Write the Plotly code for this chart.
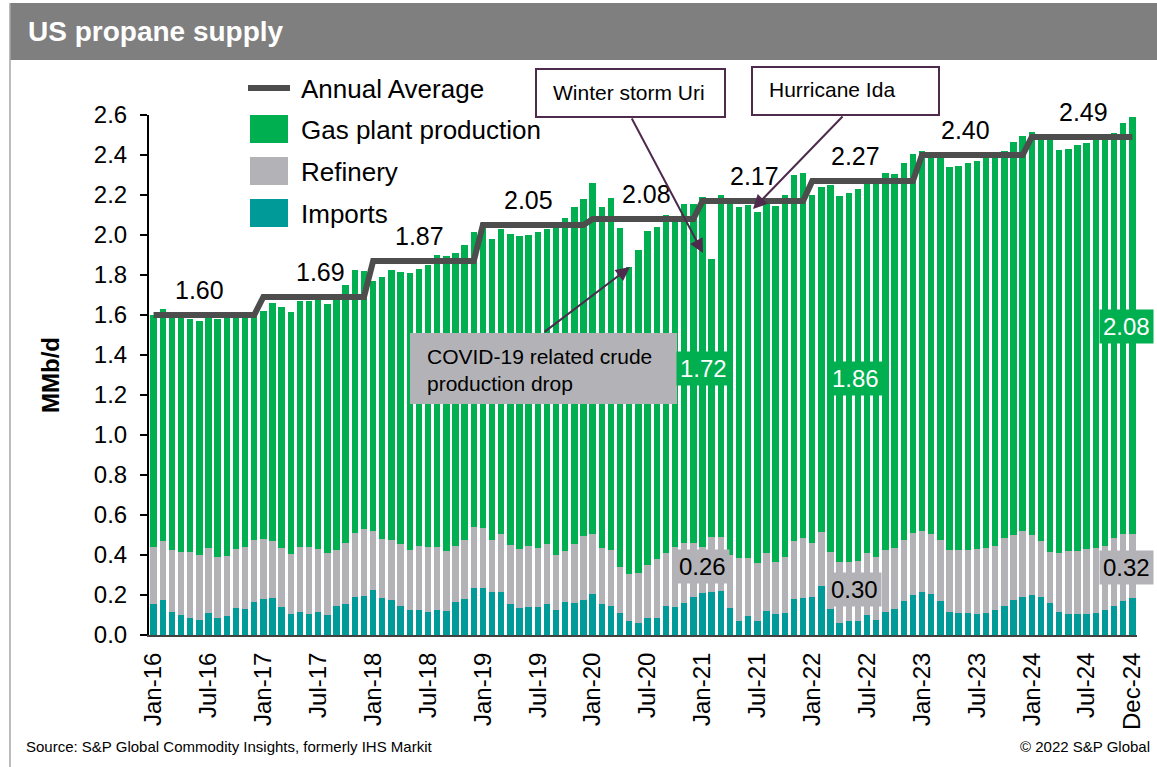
import plotly.graph_objects as go

# ---------------- data ----------------
years = [16, 17, 18, 19, 20, 21, 22, 23, 24]
month_names = ["Jan", "Feb", "Mar", "Apr", "May", "Jun", "Jul", "Aug", "Sep", "Oct", "Nov", "Dec"]
months = [f"{m}-{y}" for y in years for m in month_names]

imports = [
    0.155, 0.177, 0.115, 0.100, 0.087, 0.073, 0.110, 0.087, 0.095, 0.137, 0.130, 0.165,
    0.180, 0.185, 0.140, 0.105, 0.115, 0.105, 0.115, 0.100, 0.145, 0.155, 0.190, 0.195,
    0.225, 0.185, 0.177, 0.145, 0.125, 0.123, 0.115, 0.125, 0.120, 0.163, 0.180, 0.233,
    0.235, 0.217, 0.215, 0.153, 0.135, 0.140, 0.140, 0.155, 0.125, 0.165, 0.158, 0.177,
    0.205, 0.155, 0.145, 0.108, 0.070, 0.060, 0.083, 0.087, 0.145, 0.140, 0.162, 0.190,
    0.212, 0.217, 0.222, 0.135, 0.072, 0.093, 0.070, 0.122, 0.105, 0.110, 0.180, 0.187,
    0.190, 0.243, 0.130, 0.060, 0.070, 0.068, 0.100, 0.075, 0.115, 0.132, 0.168, 0.198,
    0.217, 0.205, 0.170, 0.115, 0.110, 0.110, 0.105, 0.110, 0.125, 0.145, 0.173, 0.190,
    0.200, 0.190, 0.160, 0.115, 0.105, 0.105, 0.105, 0.110, 0.127, 0.145, 0.172, 0.187,
]

refinery = [
    0.287, 0.291, 0.308, 0.315, 0.328, 0.327, 0.323, 0.301, 0.302, 0.291, 0.308, 0.308,
    0.298, 0.283, 0.297, 0.298, 0.323, 0.333, 0.313, 0.308, 0.280, 0.305, 0.318, 0.333,
    0.293, 0.293, 0.296, 0.308, 0.300, 0.322, 0.323, 0.313, 0.298, 0.282, 0.295, 0.305,
    0.300, 0.258, 0.290, 0.297, 0.297, 0.305, 0.295, 0.298, 0.275, 0.253, 0.297, 0.318,
    0.300, 0.280, 0.280, 0.232, 0.235, 0.250, 0.267, 0.293, 0.265, 0.300, 0.296, 0.268,
    0.230, 0.275, 0.270, 0.265, 0.313, 0.292, 0.290, 0.288, 0.262, 0.280, 0.292, 0.296,
    0.270, 0.270, 0.285, 0.303, 0.293, 0.300, 0.312, 0.313, 0.310, 0.301, 0.307, 0.314,
    0.303, 0.300, 0.305, 0.310, 0.315, 0.315, 0.323, 0.323, 0.320, 0.338, 0.327, 0.328,
    0.300, 0.278, 0.255, 0.295, 0.315, 0.315, 0.325, 0.323, 0.320, 0.340, 0.333, 0.318,
]

gas_plant = [
    1.158, 1.162, 1.177, 1.175, 1.165, 1.170, 1.182, 1.192, 1.193, 1.172, 1.177, 1.127,
    1.142, 1.192, 1.203, 1.212, 1.232, 1.232, 1.262, 1.247, 1.255, 1.290, 1.317, 1.292,
    1.252, 1.312, 1.352, 1.362, 1.385, 1.385, 1.412, 1.462, 1.477, 1.465, 1.475, 1.477,
    1.525, 1.505, 1.525, 1.555, 1.563, 1.555, 1.580, 1.577, 1.660, 1.669, 1.685, 1.685,
    1.755, 1.705, 1.760, 1.695, 1.535, 1.615, 1.670, 1.660, 1.690, 1.630, 1.697, 1.697,
    1.748, 1.388, 1.708, 1.775, 1.755, 1.765, 1.755, 1.745, 1.778, 1.810, 1.828, 1.827,
    1.740, 1.727, 1.835, 1.834, 1.847, 1.862, 1.848, 1.882, 1.885, 1.872, 1.885, 1.893,
    1.900, 1.895, 1.915, 1.913, 1.920, 1.933, 1.944, 1.957, 1.955, 1.937, 1.967, 1.977,
    2.013, 2.022, 2.065, 2.015, 2.012, 2.030, 2.030, 2.047, 2.033, 2.023, 2.053, 2.085,
]

annual_avg = [1.60, 1.69, 1.87, 2.05, 2.08, 2.17, 2.27, 2.40, 2.49]
annual_avg_text = ["1.60", "1.69", "1.87", "2.05", "2.08", "2.17", "2.27", "2.40", "2.49"]

tick_labels = ["Jan-16", "Jul-16", "Jan-17", "Jul-17", "Jan-18", "Jul-18", "Jan-19", "Jul-19",
               "Jan-20", "Jul-20", "Jan-21", "Jul-21", "Jan-22", "Jul-22", "Jan-23", "Jul-23",
               "Jan-24", "Jul-24", "Dec-24"]

gas_callouts = ["1.72", "1.86", "2.08"]
refinery_callouts = ["0.26", "0.30", "0.32"]

# annual average repeated for each month of its year (step line)
annual_avg_monthly = [v for v in annual_avg for _ in range(12)]

# ---------------- styling ----------------
GREEN = "#00b050"
GRAY = "#b3b3b7"
TEAL = "#009a98"
LINE = "#4d4d4d"
PURPLE = "#4e2a4c"
FONT = "Liberation Sans, Arial, sans-serif"

W, H = 1157, 767
L, R, T, B = 149, 20, 115, 132
PW, PH = W - L - R, H - T - B


def px(x):
    return (x - L) / PW


def py(y):
    return (H - B - y) / PH


fig = go.Figure()
fig.add_trace(go.Bar(x=months, y=imports, name="Imports", marker=dict(color=TEAL, line=dict(width=0)),
                     showlegend=False))
fig.add_trace(go.Bar(x=months, y=refinery, name="Refinery", marker=dict(color=GRAY, line=dict(width=0)),
                     showlegend=False))
fig.add_trace(go.Bar(x=months, y=gas_plant, name="Gas plant production",
                     marker=dict(color=GREEN, line=dict(width=0)), showlegend=False))
fig.add_trace(go.Scatter(x=months, y=annual_avg_monthly, name="Annual Average", mode="lines",
                         line=dict(color=LINE, width=6), showlegend=False))

shapes = []
annotations = []

# title bar and frame
shapes.append(dict(type="rect", xref="paper", yref="paper", x0=px(10), x1=px(1160), y0=py(60), y1=py(3),
                   fillcolor="#7f7f7f", line=dict(width=0), layer="above"))
shapes.append(dict(type="line", xref="paper", yref="paper", x0=px(10), x1=px(10), y0=py(3), y1=py(770),
                   line=dict(color="#a6a6a6", width=1.5)))
annotations.append(dict(text="<b>US propane supply</b>", xref="paper", yref="paper", x=px(26), y=py(32),
                        xanchor="left", yanchor="middle", showarrow=False,
                        font=dict(size=28, color="white", family=FONT)))

# custom legend
shapes.append(dict(type="line", xref="paper", yref="paper", x0=px(248), x1=px(290), y0=py(88), y1=py(88),
                   line=dict(color=LINE, width=6)))
legend_items = [("Annual Average", None, 88), ("Gas plant production", GREEN, 129),
                ("Refinery", GRAY, 171), ("Imports", TEAL, 213)]
for name, col, yc in legend_items:
    if col is not None:
        shapes.append(dict(type="rect", xref="paper", yref="paper", x0=px(250), x1=px(288),
                           y0=py(yc + 14), y1=py(yc - 14), fillcolor=col, line=dict(width=0)))
    annotations.append(dict(text=name, xref="paper", yref="paper", x=px(299), y=py(yc + 1),
                            xanchor="left", yanchor="middle", showarrow=False,
                            font=dict(size=26, color="black", family=FONT)))

# annual average labels
avg_label_x = [5.07, 18.2, 29.1, 41.0, 53.9, 65.7, 76.7, 88.7, 101.6]
for xi, v, t in zip(avg_label_x, annual_avg, annual_avg_text):
    annotations.append(dict(text=t, xref="x", yref="y", x=xi, y=v, yshift=25, showarrow=False,
                            xanchor="center", yanchor="middle",
                            font=dict(size=25, color="black", family=FONT)))

# event boxes
shapes.append(dict(type="rect", xref="paper", yref="paper", x0=px(536), x1=px(725), y0=py(117), y1=py(69),
                   fillcolor="white", line=dict(color=PURPLE, width=2)))
annotations.append(dict(text="Winter storm Uri", xref="paper", yref="paper", x=px(551), y=py(93),
                        xanchor="left", yanchor="middle", showarrow=False,
                        font=dict(size=21, color="black", family=FONT)))
shapes.append(dict(type="rect", xref="paper", yref="paper", x0=px(752), x1=px(939), y0=py(115), y1=py(67),
                   fillcolor="white", line=dict(color=PURPLE, width=2)))
annotations.append(dict(text="Hurricane Ida", xref="paper", yref="paper", x=px(767), y=py(90),
                        xanchor="left", yanchor="middle", showarrow=False,
                        font=dict(size=21, color="black", family=FONT)))
shapes.append(dict(type="rect", xref="paper", yref="paper", x0=px(410), x1=px(677), y0=py(404), y1=py(333),
                   fillcolor=GRAY, line=dict(width=0)))
annotations.append(dict(text="COVID-19 related crude<br>production drop", xref="paper", yref="paper",
                        x=px(425), y=py(370), xanchor="left", yanchor="middle", align="left",
                        showarrow=False, font=dict(size=21, color="black", family=FONT)))

# arrows (tip, tail offset in px)
arrows = [((703, 253), (-72, -136)), ((753, 209), (91, -94)), ((630, 267), (-87, 66))]
for (tx, ty), (ax, ay) in arrows:
    annotations.append(dict(text="", xref="paper", yref="paper", x=px(tx), y=py(ty), ax=ax, ay=ay,
                            showarrow=True, arrowhead=2, arrowsize=1.4, arrowwidth=2,
                            arrowcolor=PURPLE, standoff=0))

# value callouts
gas_pos = [(703, 368), (855, 378), (1126, 326)]
for (cx, cy), t in zip(gas_pos, gas_callouts):
    annotations.append(dict(text=t, xref="paper", yref="paper", x=px(cx), y=py(cy), showarrow=False,
                            xanchor="center", yanchor="middle", bgcolor=GREEN, borderpad=3,
                            font=dict(size=24, color="white", family=FONT)))
ref_pos = [(702, 566), (854, 589), (1126, 567)]
for (cx, cy), t in zip(ref_pos, refinery_callouts):
    annotations.append(dict(text=t, xref="paper", yref="paper", x=px(cx), y=py(cy), showarrow=False,
                            xanchor="center", yanchor="middle", bgcolor=GRAY, borderpad=3,
                            font=dict(size=24, color="black", family=FONT)))

# axis title and footer
annotations.append(dict(text="<b>MMb/d</b>", xref="paper", yref="paper", x=px(50), y=py(375),
                        textangle=-90, showarrow=False, xanchor="center", yanchor="middle",
                        font=dict(size=24, color="black", family=FONT)))
annotations.append(dict(text="Source: S&P Global Commodity Insights, formerly IHS Markit", xref="paper",
                        yref="paper", x=px(24), y=py(746), xanchor="left", yanchor="middle",
                        showarrow=False, font=dict(size=15, color="black", family=FONT)))
annotations.append(dict(text="© 2022 S&P Global", xref="paper", yref="paper", x=px(1152), y=py(746),
                        xanchor="right", yanchor="middle", showarrow=False,
                        font=dict(size=15, color="black", family=FONT)))

fig.update_layout(
    width=W, height=H,
    margin=dict(l=L, r=R, t=T, b=B, pad=0),
    paper_bgcolor="white", plot_bgcolor="white",
    barmode="stack", bargap=0.3,
    font=dict(family=FONT, color="black"),
    shapes=shapes, annotations=annotations,
    showlegend=False,
    xaxis=dict(type="category", categoryorder="array", categoryarray=months,
               range=[-0.5, len(months) - 0.5],
               tickmode="array", tickvals=tick_labels, ticktext=tick_labels,
               tickangle=-90, ticks="", showgrid=False,
               showline=True, linecolor="#404040", linewidth=2,
               tickfont=dict(size=24, color="black", family=FONT), ticklabelstandoff=6),
    yaxis=dict(range=[0, 2.6], dtick=0.2, tick0=0, tickformat=".1f", showgrid=False, zeroline=False,
               showline=True, linecolor="black", linewidth=2,
               ticks="outside", ticklen=7, tickwidth=2, tickcolor="black",
               tickfont=dict(size=24, color="black", family=FONT), ticklabelstandoff=8),
)

fig.write_html("out.html", config={"displayModeBar": False},
               post_script="document.body.style.margin='0';")
